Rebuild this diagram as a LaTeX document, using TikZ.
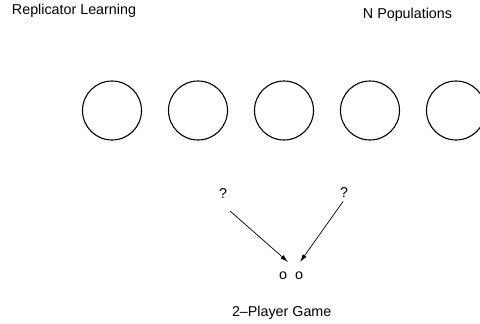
\documentclass[tikz,border=0pt]{standalone}
\usepackage{fontspec}
\setmainfont{Liberation Sans}
\usetikzlibrary{arrows.meta,calc}
\begin{document}
\begin{tikzpicture}[x=1pt,y=-1pt,
  lbl/.style={anchor=base,inner sep=0pt,font=\fontsize{14.3}{17}\selectfont},
  pop/.style={circle,draw,line width=1.1pt,minimum size=59pt,inner sep=0pt},
  conn/.style={line width=0.7pt,-{Latex[length=8pt,width=4.5pt]}}]
  \useasboundingbox (0,0) rectangle (480,324);
  \clip (0,0) rectangle (480,324);
  % titles
  \node[lbl] (title) at (74,15) {Replicator Learning};
  \node[lbl] (npop) at (407.5,18.3) {N Populations};
  % populations
  \foreach \i/\cx in {1/112,2/198,3/284,4/370,5/456}
    \node[pop] (p\i) at (\cx,110.5) {};
  % unknown players
  \node[lbl] (q1) at (223,198) {?};
  \node[lbl] (q2) at (344,197.5) {?};
  % game players
  \node[lbl] (o1) at (283,279.5) {o};
  \node[lbl] (o2) at (299,279.5) {o};
  \node[lbl] (game) at (281.7,316) {2–Player Game};
  % connectors
  \draw[conn] ($(q1.base)+(7,13)$) -- ($(o1.north east)+(1,-9.5)$);
  \draw[conn] ($(q2.base)+(-1,4)$) -- ($(o2.north)+(1,-9.5)$);
\end{tikzpicture}
\end{document}
